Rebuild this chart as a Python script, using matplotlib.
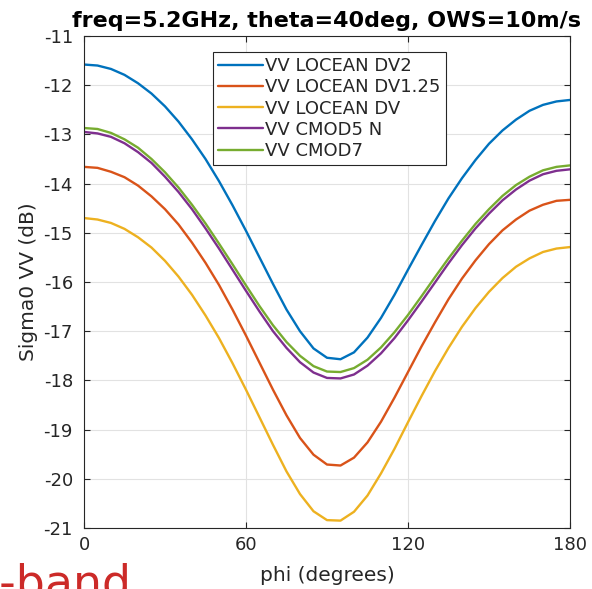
import matplotlib
matplotlib.use("Agg")
import matplotlib.pyplot as plt

plt.rcParams['font.family'] = ['DejaVu Sans']
plt.rcParams['axes.unicode_minus'] = False

phi = [0, 5, 10, 15, 20, 25, 30, 35, 40, 45, 50, 55, 60, 65, 70, 75, 80, 85, 90,
       95, 100, 105, 110, 115, 120, 125, 130, 135, 140, 145, 150, 155, 160, 165,
       170, 175, 180]

vv_locean_dv2 = [-11.58, -11.60, -11.67, -11.79, -11.96, -12.17, -12.43, -12.74,
                 -13.10, -13.50, -13.95, -14.44, -14.96,
                 -15.50, -16.04, -16.56, -17.00, -17.35, -17.54, -17.57, -17.43,
                 -17.13, -16.73, -16.26, -15.75, -15.25,
                 -14.76, -14.30, -13.89, -13.52, -13.19, -12.92, -12.70, -12.52,
                 -12.40, -12.33, -12.30]
vv_locean_dv125 = [-13.66, -13.68, -13.76, -13.87, -14.04, -14.26, -14.52, -14.83,
                   -15.20, -15.61, -16.06, -16.56, -17.09,
                   -17.64, -18.19, -18.71, -19.17, -19.51, -19.71, -19.73, -19.57,
                   -19.26, -18.84, -18.35, -17.83, -17.31,
                   -16.82, -16.35, -15.93, -15.56, -15.23, -14.95, -14.73, -14.55,
                   -14.43, -14.35, -14.33]
vv_locean_dv = [-14.70, -14.73, -14.80, -14.92, -15.09, -15.30, -15.57, -15.89,
                -16.26, -16.68, -17.14, -17.65, -18.19,
                -18.75, -19.31, -19.85, -20.31, -20.66, -20.84, -20.85, -20.67,
                -20.34, -19.89, -19.39, -18.85, -18.32,
                -17.81, -17.34, -16.91, -16.53, -16.20, -15.92, -15.69, -15.52,
                -15.39, -15.32, -15.29]
vv_cmod5n = [-12.95, -12.98, -13.05, -13.18, -13.36, -13.58, -13.86, -14.17,
             -14.52, -14.91, -15.32, -15.75, -16.18,
             -16.60, -17.00, -17.34, -17.63, -17.84, -17.95, -17.96, -17.88,
             -17.70, -17.45, -17.14, -16.78, -16.40,
             -16.01, -15.62, -15.25, -14.91, -14.61, -14.34, -14.12, -13.94,
             -13.81, -13.74, -13.71]
vv_cmod7 = [-12.87, -12.89, -12.97, -13.10, -13.27, -13.50, -13.77, -14.08,
            -14.43, -14.81, -15.22, -15.64, -16.07,
            -16.49, -16.88, -17.22, -17.50, -17.71, -17.82, -17.83, -17.75,
            -17.58, -17.33, -17.02, -16.67, -16.29,
            -15.90, -15.52, -15.16, -14.82, -14.52, -14.25, -14.03, -13.86,
            -13.73, -13.66, -13.63]

series = [
    ("VV LOCEAN DV2", vv_locean_dv2, "#0072BD"),
    ("VV LOCEAN DV1.25", vv_locean_dv125, "#D95319"),
    ("VV LOCEAN DV", vv_locean_dv, "#EDB120"),
    ("VV CMOD5 N", vv_cmod5n, "#7E2F8E"),
    ("VV CMOD7", vv_cmod7, "#77AC30"),
]

xticks = [0, 60, 120, 180]
yticks = list(range(-21, -10))

title = "freq=5.2GHz, theta=40deg, OWS=10m/s"
xlabel = "phi (degrees)"
ylabel = "Sigma0 VV (dB)"

dark = "#262626"

fig = plt.figure(figsize=(5.92, 5.89), dpi=100, facecolor="white")
ax = fig.add_axes([84 / 592, 61 / 589, 486 / 592, 492 / 589])

for label, vals, col in series:
    ax.plot(phi, vals, color=col, lw=1.7, label=label,
            solid_capstyle="round", solid_joinstyle="round")

ax.set_xlim(0, 180)
ax.set_ylim(-21, -11)
ax.set_xticks(xticks)
ax.set_yticks(yticks)
ax.grid(True, color="#e2e2e2", lw=0.8)
ax.set_axisbelow(True)

for sp in ax.spines.values():
    sp.set_color(dark)
    sp.set_linewidth(0.8)

ax.tick_params(axis="both", direction="in", length=4, width=0.8, color=dark,
               labelcolor=dark, labelsize=13, top=True, right=True)
ax.tick_params(axis="x", pad=6)
ax.tick_params(axis="y", pad=8)

ax.set_title(title, fontsize=16, fontweight="bold", color="black", pad=6.5)
ax.set_xlabel(xlabel, fontsize=14.5, color=dark)
ax.set_ylabel(ylabel, fontsize=14.5, color=dark)
ax.xaxis.set_label_coords(0.5, -0.077)
ax.yaxis.set_label_coords(-0.0947, 0.5)

leg = ax.legend(loc="upper left", bbox_to_anchor=((213 - 84) / 486, (528 - 52) / 492),
                borderaxespad=0, fontsize=13, handlelength=2.5, handletextpad=0.12,
                labelspacing=0.18, borderpad=0.28, fancybox=False, framealpha=1,
                edgecolor=dark)
leg.get_frame().set_linewidth(0.8)
for t in leg.get_texts():
    t.set_color(dark)

fig.text(-32.7 / 592, (589 - 598) / 589, "C-band", fontsize=33, color="#cc2a28",
         ha="left", va="baseline")

fig.savefig("out.png", dpi=100, facecolor="white")
